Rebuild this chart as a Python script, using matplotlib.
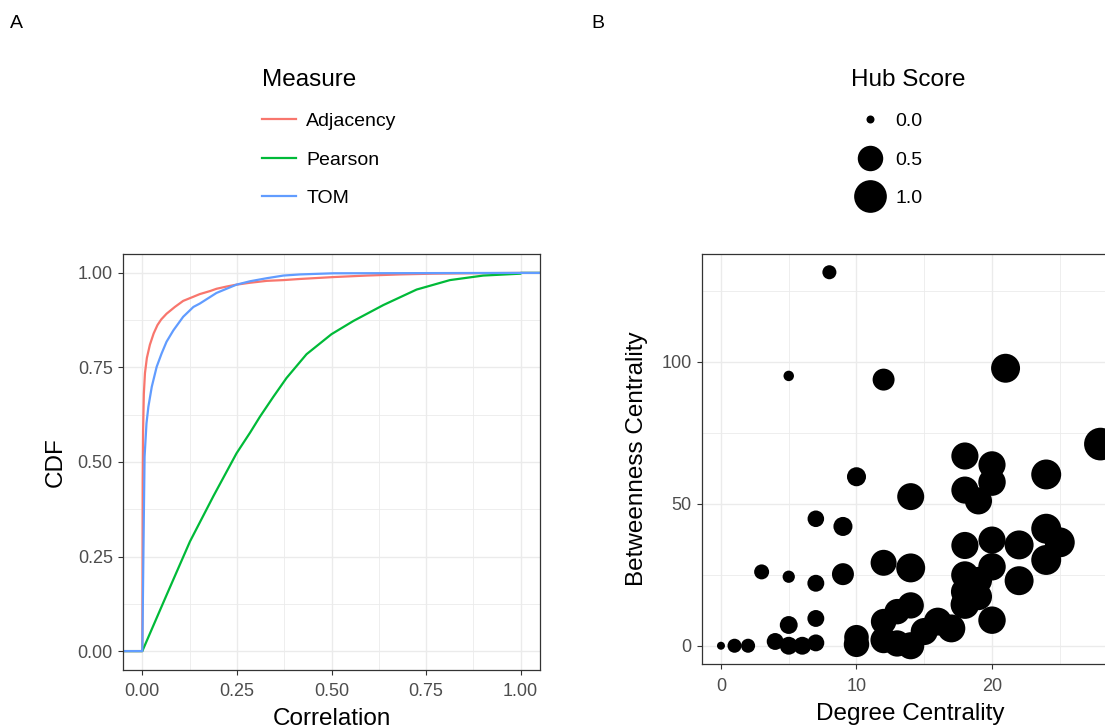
import numpy as np
import matplotlib
matplotlib.use("Agg")
import matplotlib.pyplot as plt
from matplotlib.lines import Line2D
from matplotlib.ticker import MultipleLocator

plt.rcParams['font.family'] = ['Liberation Sans', 'DejaVu Sans']

# === Panel A: CDF of correlation values per measure ===
adj_x = [0.0, 0.001, 0.002, 0.004, 0.007, 0.012, 0.020, 0.030, 0.040, 0.050, 0.064, 0.086,
         0.108, 0.135, 0.152, 0.179, 0.196, 0.223, 0.249, 0.285, 0.329, 0.373, 0.417,
         0.505, 0.593, 0.681, 0.769, 0.857, 1.0]
adj_y = [0.0, 0.45, 0.58, 0.68, 0.735, 0.775, 0.81, 0.84, 0.862, 0.877, 0.892, 0.910,
         0.926, 0.937, 0.944, 0.952, 0.958, 0.964, 0.969, 0.974, 0.979, 0.981, 0.984,
         0.989, 0.993, 0.996, 0.998, 0.999, 1.0]

pear_x = [0.0, 0.064, 0.126, 0.188, 0.249, 0.285, 0.311, 0.346, 0.381, 0.434, 0.5, 0.558,
          0.637, 0.725, 0.813, 0.901, 1.0]
pear_y = [0.0, 0.148, 0.29, 0.41, 0.523, 0.578, 0.62, 0.672, 0.722, 0.785, 0.838, 0.873,
          0.915, 0.956, 0.981, 0.993, 0.998]

tom_x = [0.0, 0.002, 0.004, 0.006, 0.011, 0.016, 0.025, 0.038, 0.051, 0.064, 0.082, 0.108,
         0.135, 0.152, 0.196, 0.249, 0.285, 0.329, 0.373, 0.417, 0.505, 1.0]
tom_y = [0.0, 0.179, 0.355, 0.514, 0.602, 0.646, 0.699, 0.752, 0.787, 0.818, 0.848, 0.884,
         0.910, 0.919, 0.947, 0.969, 0.978, 0.986, 0.993, 0.996, 0.999, 1.0]

measures = ["Adjacency", "Pearson", "TOM"]
measure_colors = ["#F8766D", "#00BA38", "#619CFF"]

# === Panel B: node centrality ===
degree = [0, 1, 2, 3, 4, 5, 5, 5, 5, 6, 7, 7, 7, 7, 8, 9, 9, 10, 10, 10,
          12, 12, 12, 12, 13, 13, 14, 14, 14, 14, 15, 16, 17,
          18, 18, 18, 18, 18, 18, 19, 19, 19, 20, 20, 20, 20, 20,
          21, 22, 22, 24, 24, 24, 25, 28]
betweenness = [0, 0, 0, 26, 1.5, 95, 24.3, 7.3, 0, 0, 1, 9.6, 22, 44.7, 131.5, 42, 25.2, 59.5, 0.5, 3,
               93.7, 29.2, 8.5, 2, 12, 0.8, 52.5, 27.4, 14.2, 0, 5, 8.5, 6.1,
               66.8, 54.8, 35.3, 24.9, 14.5, 19, 51, 17.3, 23, 63.7, 57.6, 37.2, 27.8, 9,
               97.7, 35.5, 22.9, 60.3, 41.2, 30.2, 36.4, 71]
hub_score = [0.0, 0.06, 0.06, 0.08, 0.13, 0.01, 0.03, 0.16, 0.16, 0.16, 0.13, 0.13, 0.13, 0.12, 0.06, 0.2, 0.32, 0.2, 0.5, 0.45,
             0.32, 0.53, 0.5, 0.55, 0.5, 0.55, 0.59, 0.72, 0.55, 0.6, 0.6, 0.65, 0.65,
             0.6, 0.6, 0.6, 0.62, 0.7, 0.65, 0.6, 0.6, 0.6, 0.6, 0.62, 0.6, 0.62, 0.62,
             0.72, 0.72, 0.72, 0.79, 0.79, 0.79, 0.79, 1.0]
hub_breaks = [0.0, 0.5, 1.0]


def hub_diameter(h):
    # point diameter in pt (area scaled, like scale_size)
    return 0.72 * (8 + 24.7 * np.sqrt(np.asarray(h)))


W, H = 1105, 728
fig = plt.figure(figsize=(W / 100, H / 100), dpi=100)

grid_col = "#EBEBEB"
border_col = "#333333"
tick_lab_col = "#4D4D4D"


def style_axes(ax):
    ax.set_axisbelow(True)
    ax.grid(True, which="major", color=grid_col, lw=1.0)
    ax.grid(True, which="minor", color=grid_col, lw=0.6)
    for s in ax.spines.values():
        s.set_color(border_col)
        s.set_linewidth(0.9)
    ax.tick_params(which="major", length=3.6, width=0.8, color=border_col,
                   labelcolor=tick_lab_col, labelsize=13, pad=4)
    ax.tick_params(axis="x", which="major", pad=6)
    ax.tick_params(which="minor", length=0)


# --- Panel A ---
axA = fig.add_axes([123.4 / W, 1 - 670 / H, 416.2 / W, 416 / H])
xlo, xhi = -0.05, 1.05
for xs, ys, name, col in zip([adj_x, pear_x, tom_x], [adj_y, pear_y, tom_y], measures, measure_colors):
    xx = np.concatenate([[xlo - 0.1], xs, [xs[-1], xhi + 0.1]])
    yy = np.concatenate([[0.0], ys, [1.0, 1.0]])
    axA.plot(xx, yy, color=col, lw=1.6, label=name)
axA.set_xlim(xlo, xhi)
axA.set_ylim(-0.05, 1.05)
axA.set_xticks([0, 0.25, 0.5, 0.75, 1.0])
axA.set_xticklabels(["0.00", "0.25", "0.50", "0.75", "1.00"])
axA.set_yticks([0, 0.25, 0.5, 0.75, 1.0])
axA.set_yticklabels(["0.00", "0.25", "0.50", "0.75", "1.00"])
axA.xaxis.set_minor_locator(MultipleLocator(0.125))
axA.yaxis.set_minor_locator(MultipleLocator(0.125))
style_axes(axA)
axA.set_xlabel("Correlation", fontsize=17.5, labelpad=5.5)
axA.set_ylabel("CDF", fontsize=17.5, labelpad=8)

hA, lA = axA.get_legend_handles_labels()
fig.legend(hA, lA, title="Measure", loc="upper left",
           bbox_to_anchor=(257 / W, 1 - 64 / H), frameon=False,
           fontsize=14, title_fontsize=17.5, handlelength=1.7,
           handletextpad=0.55, labelspacing=1.08, borderpad=0.28, borderaxespad=0,
           alignment="left")

# --- Panel B ---
axB = fig.add_axes([702 / W, 1 - 664.4 / H, 417.4 / W, 410.9 / H])
axB.scatter(degree, betweenness, s=hub_diameter(hub_score) ** 2, color="black", linewidths=0)
axB.set_xlim(-1.4, 29.4)
axB.set_ylim(-6.57, 138.1)
axB.set_xticks([0, 10, 20])
axB.set_yticks([0, 50, 100])
axB.xaxis.set_minor_locator(MultipleLocator(5))
axB.yaxis.set_minor_locator(MultipleLocator(25))
style_axes(axB)
axB.set_xlabel("Degree Centrality", fontsize=17.5, labelpad=6.2)
axB.set_ylabel("Betweenness Centrality", fontsize=17.5, labelpad=9.5)

hB = [Line2D([], [], ls="none", marker="o", color="black", markeredgewidth=0,
             markersize=float(hub_diameter(b))) for b in hub_breaks]
fig.legend(hB, [f"{b:.1f}" for b in hub_breaks], title="Hub Score", loc="upper left",
           bbox_to_anchor=(846 / W, 1 - 64 / H), frameon=False,
           fontsize=14, title_fontsize=17.5, handlelength=1.96,
           handletextpad=0.31, labelspacing=1.08, borderpad=0.28, borderaxespad=0,
           alignment="left")

fig.text(10 / W, 1 - 24 / H, "A", fontsize=14, va="center", ha="left")
fig.text(591 / W, 1 - 24 / H, "B", fontsize=14, va="center", ha="left")

fig.savefig("out.png", dpi=100)
